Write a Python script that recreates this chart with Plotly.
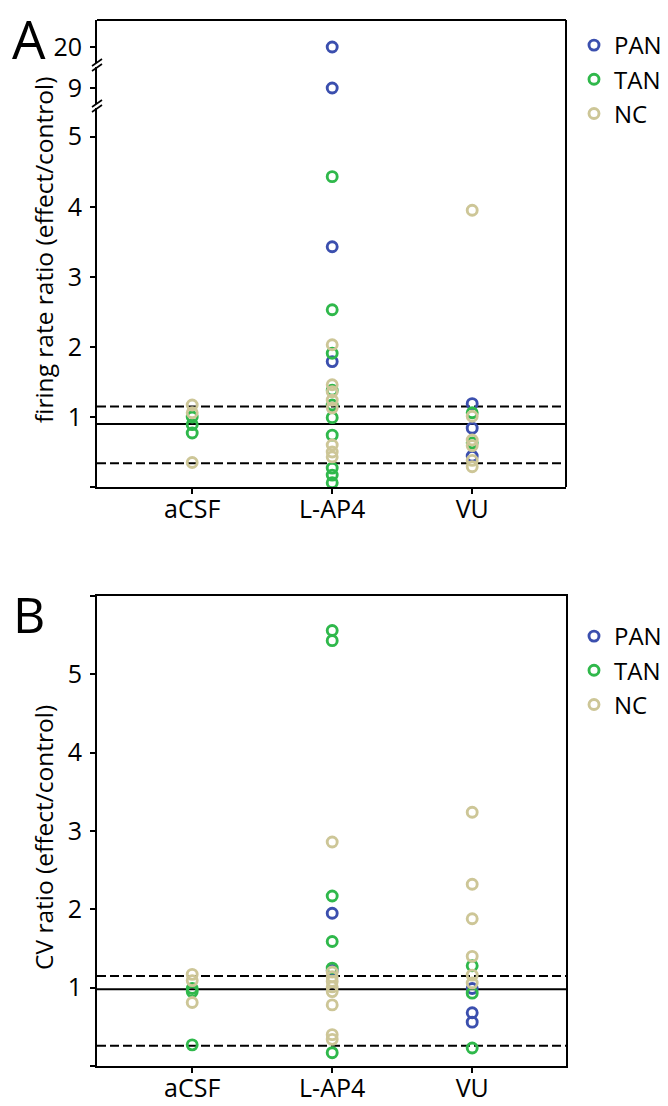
import plotly.graph_objects as go

# ---------------- data ----------------
categories = ["aCSF", "L-AP4", "VU"]

# Panel A: firing rate ratio (effect/control)
fr_pan_x = ["L-AP4", "L-AP4", "L-AP4", "L-AP4", "VU", "VU", "VU"]
fr_pan_y = [20.0, 9.0, 3.43, 1.79, 1.19, 0.84, 0.44]
fr_tan_x = ["aCSF", "aCSF", "aCSF",
            "L-AP4", "L-AP4", "L-AP4", "L-AP4", "L-AP4", "L-AP4", "L-AP4", "L-AP4", "L-AP4", "L-AP4",
            "VU", "VU"]
fr_tan_y = [1.0, 0.89, 0.77,
            4.43, 2.53, 1.91, 1.38, 1.17, 0.99, 0.74, 0.27, 0.17, 0.06,
            1.06, 0.63]
fr_nc_x = ["aCSF", "aCSF", "aCSF",
           "L-AP4", "L-AP4", "L-AP4", "L-AP4", "L-AP4", "L-AP4", "L-AP4", "L-AP4",
           "VU", "VU", "VU", "VU", "VU", "VU"]
fr_nc_y = [1.17, 1.06, 0.35,
           2.03, 1.46, 1.36, 1.24, 1.13, 0.60, 0.50, 0.43,
           3.95, 1.01, 0.67, 0.59, 0.38, 0.29]
fr_lines = [1.15, 0.90, 0.34]          # upper bound, mean, lower bound
fr_ticks_low = [0, 1, 2, 3, 4, 5]
fr_ticks_mid = [9]
fr_ticks_top = [20]

# Panel B: CV ratio (effect/control)
cv_pan_x = ["L-AP4", "L-AP4", "VU", "VU", "VU"]
cv_pan_y = [1.95, 1.22, 0.99, 0.68, 0.56]
cv_tan_x = ["aCSF", "aCSF", "aCSF",
            "L-AP4", "L-AP4", "L-AP4", "L-AP4", "L-AP4", "L-AP4",
            "VU", "VU", "VU"]
cv_tan_y = [0.99, 0.95, 0.27,
            5.56, 5.43, 2.17, 1.59, 1.25, 0.17,
            1.28, 0.93, 0.23]
cv_nc_x = ["aCSF", "aCSF", "aCSF",
           "L-AP4", "L-AP4", "L-AP4", "L-AP4", "L-AP4", "L-AP4", "L-AP4", "L-AP4", "L-AP4",
           "VU", "VU", "VU", "VU", "VU", "VU"]
cv_nc_y = [1.17, 1.09, 0.81,
           2.86, 1.20, 1.14, 1.08, 1.01, 0.95, 0.78, 0.40, 0.34,
           3.24, 2.32, 1.88, 1.40, 1.16, 1.06]
cv_lines = [1.15, 0.98, 0.26]
cv_ticks = [0, 1, 2, 3, 4, 5, 6]

groups = ["PAN", "TAN", "NC"]
colors = {"PAN": "#3b4fae", "TAN": "#2fb84b", "NC": "#cdc697"}

# ---------------- layout helpers ----------------
W, H = 668, 1106
FONT = "Open Sans"

def px(x):
    return x / W

def py(y):
    return 1 - y / H

XL, XR = 97, 566
x_dom = [px(XL), px(XR)]
x_range = [-0.68, 2.67]

# panel A axis segments (pixel rows)
A_low_dom = [py(487), py(108)]
A_mid_dom = [py(104), py(67)]
A_top_dom = [py(63), py(20)]
A_low_rng = [0, 5.41]
A_mid_rng = [9 - 16 / 70, 9 + 21 / 70]
A_top_rng = [20 - 16 / 70, 20 + 27 / 70]
B_dom = [py(1066), py(596)]
B_rng = [0, 6]

fig = go.Figure()

def split(xs, ys, lo, hi):
    sx, sy = [], []
    for a, b in zip(xs, ys):
        if lo <= b <= hi:
            sx.append(a)
            sy.append(b)
    return sx, sy

marker_common = dict(symbol="circle-open", size=10)

fr_data = {"PAN": (fr_pan_x, fr_pan_y), "TAN": (fr_tan_x, fr_tan_y), "NC": (fr_nc_x, fr_nc_y)}
cv_data = {"PAN": (cv_pan_x, cv_pan_y), "TAN": (cv_tan_x, cv_tan_y), "NC": (cv_nc_x, cv_nc_y)}

for g in groups:
    xs, ys = fr_data[g]
    for (lo, hi), yax, show in [((A_low_rng[0] - 1, A_low_rng[1]), "y", True),
                                (tuple(A_mid_rng), "y2", False),
                                (tuple(A_top_rng), "y3", False)]:
        sx, sy = split(xs, ys, lo, hi)
        fig.add_trace(go.Scatter(
            x=sx, y=sy, mode="markers", name=g, xaxis="x", yaxis=yax,
            legendgroup="A" + g, showlegend=show, legend="legend",
            marker=dict(color=colors[g], line=dict(color=colors[g], width=2.9), **marker_common),
        ))

for g in groups:
    xs, ys = cv_data[g]
    fig.add_trace(go.Scatter(
        x=xs, y=ys, mode="markers", name=g, xaxis="x2", yaxis="y4",
        legendgroup="B" + g, showlegend=True, legend="legend2",
        marker=dict(color=colors[g], line=dict(color=colors[g], width=2.9), **marker_common),
    ))

axis_font = dict(family=FONT, size=25, color="black")
common_axis = dict(showgrid=False, zeroline=False, showline=True, linecolor="black",
                   linewidth=2, ticks="outside", ticklen=5, tickwidth=2, tickcolor="black",
                   tickfont=axis_font)

def ylabels(vals, blanks):
    return [("" if v in blanks else str(v)) for v in vals]

fig.update_layout(
    width=W, height=H,
    margin=dict(l=0, r=0, t=0, b=0),
    paper_bgcolor="white", plot_bgcolor="rgba(0,0,0,0)",
    font=dict(family=FONT, color="black"),
    xaxis=dict(domain=x_dom, anchor="y", range=x_range, type="category",
               categoryorder="array", categoryarray=categories,
               ticklabelstandoff=-6, **common_axis),
    yaxis=dict(domain=A_low_dom, anchor="x", range=A_low_rng,
               tickvals=fr_ticks_low, ticktext=ylabels(fr_ticks_low, [0]),
               ticklabelstandoff=3, **common_axis),
    yaxis2=dict(domain=A_mid_dom, anchor="x", range=A_mid_rng,
                tickvals=fr_ticks_mid, ticktext=[str(v) for v in fr_ticks_mid],
                ticklabelstandoff=3, **common_axis),
    yaxis3=dict(domain=A_top_dom, anchor="x", range=A_top_rng,
                tickvals=fr_ticks_top, ticktext=[str(v) for v in fr_ticks_top],
                ticklabelstandoff=3, **common_axis),
    xaxis2=dict(domain=x_dom, anchor="y4", range=x_range, type="category",
                categoryorder="array", categoryarray=categories,
                ticklabelstandoff=-6, mirror=True, **common_axis),
    yaxis4=dict(domain=B_dom, anchor="x2", range=B_rng,
                tickvals=cv_ticks, ticktext=ylabels(cv_ticks, [0, 6]),
                ticklabelstandoff=3, mirror=True, **common_axis),
    legend=dict(x=px(574), y=py(23), xanchor="left", yanchor="top",
                font=dict(family=FONT, size=24, color="black"),
                itemwidth=30, bgcolor="rgba(0,0,0,0)", tracegroupgap=0),
    legend2=dict(x=px(574), y=py(614), xanchor="left", yanchor="top",
                 font=dict(family=FONT, size=24, color="black"),
                 itemwidth=30, bgcolor="rgba(0,0,0,0)", tracegroupgap=0),
    showlegend=True,
)

shapes = []
# reference lines
for i, v in enumerate(fr_lines):
    shapes.append(dict(type="line", xref="x domain", yref="y", x0=0, x1=1, y0=v, y1=v,
                       line=dict(color="black", width=2, dash="solid" if i == 1 else "9px,4px"),
                       layer="below"))
for i, v in enumerate(cv_lines):
    shapes.append(dict(type="line", xref="x2 domain", yref="y4", x0=0, x1=1, y0=v, y1=v,
                       line=dict(color="black", width=2, dash="solid" if i == 1 else "9px,4px"),
                       layer="below"))
# panel A frame (top and right)
shapes.append(dict(type="line", xref="paper", yref="paper", x0=px(XL), x1=px(XR),
                   y0=py(20), y1=py(20), line=dict(color="black", width=2)))
shapes.append(dict(type="line", xref="paper", yref="paper", x0=px(XR), x1=px(XR),
                   y0=py(20), y1=py(487), line=dict(color="black", width=2)))
# axis break marks
for c in (106, 65):
    for d in (-2.5, 2.5):
        shapes.append(dict(type="line", xref="paper", yref="paper",
                           x0=px(XL - 5), x1=px(XL + 5),
                           y0=py(c + d + 3.5), y1=py(c + d - 3.5),
                           line=dict(color="black", width=1.6)))
fig.update_layout(shapes=shapes)

annotations = [
    dict(text="A", x=px(29), y=py(0), xref="paper", yref="paper", showarrow=False,
         xanchor="center", yanchor="top",
         font=dict(family=FONT, size=53, color="black")),
    dict(text="B", x=px(29), y=py(578), xref="paper", yref="paper", showarrow=False,
         xanchor="center", yanchor="top",
         font=dict(family=FONT, size=50, color="black")),
    dict(text="firing rate ratio (effect/control)", x=px(43), y=py(250), xref="paper", yref="paper",
         xanchor="center", yanchor="middle",
         showarrow=False, textangle=-90, font=dict(family=FONT, size=24.5, color="black")),
    dict(text="CV ratio (effect/control)", x=px(43), y=py(838), xref="paper", yref="paper",
         xanchor="center", yanchor="middle",
         showarrow=False, textangle=-90, font=dict(family=FONT, size=24.5, color="black")),
]
fig.update_layout(annotations=annotations)

fig.write_html("out.html", config={"displayModeBar": False},
               post_script="document.body.style.margin='0';document.body.style.overflow='hidden';")
